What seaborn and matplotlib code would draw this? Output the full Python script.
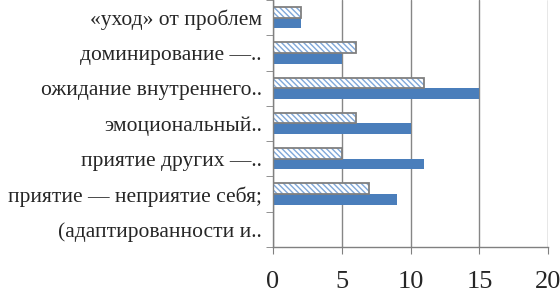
import numpy as np
import pandas as pd
import matplotlib
matplotlib.use('Agg')
import matplotlib.pyplot as plt
import seaborn as sns

categories = [
    '«уход» от проблем',
    'доминирование —..',
    'ожидание внутреннего..',
    'эмоциональный..',
    'приятие других —..',
    'приятие — неприятие себя;',
    '(адаптированности и..',
]
series_names = ['Ряд 1', 'Ряд 2']
hatched_vals = [2, 6, 11, 6, 5, 7, 0]
solid_vals = [2, 5, 15, 10, 11, 9, 0]
x_ticks = [0, 5, 10, 15, 20]

df = pd.DataFrame({
    'category': categories * 2,
    'value': hatched_vals + solid_vals,
    'series': [series_names[0]] * len(categories) + [series_names[1]] * len(categories),
})

sns.set_style('white')
plt.rcParams['font.family'] = ['Liberation Serif', 'DejaVu Serif']
plt.rcParams['hatch.linewidth'] = 1.0

fig = plt.figure(figsize=(5.6, 2.93), dpi=100)
ax = fig.add_axes([0.4875, 0.157, 0.4915, 0.843])

# hatched series: light blue hatch lines (edge colour drives the hatch)
sns.barplot(data=df, x='value', y='category', hue='series', orient='h',
            palette=['white', '#4A7EBB'], width=0.6, gap=0, legend=False,
            saturation=1, ax=ax)

n = len(categories)
for i, p in enumerate(ax.patches[:n * 2]):
    if i < n:
        p.set_facecolor('white')
        p.set_edgecolor('#7FA7D9')
        p.set_linewidth(0)
        p.set_hatch('\\\\\\\\\\\\')
    else:
        p.set_edgecolor('none')

# gray outline on top of the hatched bars
sns.barplot(data=df, x='value', y='category', hue='series', orient='h',
            palette=['#808080', '#808080'], width=0.6, gap=0, legend=False,
            fill=False, saturation=1, linewidth=1.3, ax=ax)
for p in ax.patches[n * 3:n * 4]:
    p.set_visible(False)

ax.set_xlim(0, 20)
ax.set_ylim(n - 0.5, -0.5)
ax.set_xticks(x_ticks)
ax.set_xticklabels([str(t) for t in x_ticks], fontsize=19)
ax.set_yticks(range(n))
ax.set_yticklabels(categories, fontsize=15.5)
ax.set_yticks(np.arange(-0.5, n, 1.0), minor=True)
ax.tick_params(axis='y', which='major', length=0, pad=8)
ax.tick_params(axis='y', which='minor', length=5, color='#808080', direction='out', left=True)
ax.tick_params(axis='x', which='major', length=5, color='#808080', direction='out', bottom=True, pad=12)
ax.set_xlabel('')
ax.set_ylabel('')
ax.xaxis.grid(True, color='#868686', linewidth=1)
ax.set_axisbelow(True)
for side in ['top', 'right']:
    ax.spines[side].set_visible(False)
for side in ['left', 'bottom']:
    ax.spines[side].set_color('#808080')
    ax.spines[side].set_linewidth(1)

fig.savefig('out.png', dpi=100)
